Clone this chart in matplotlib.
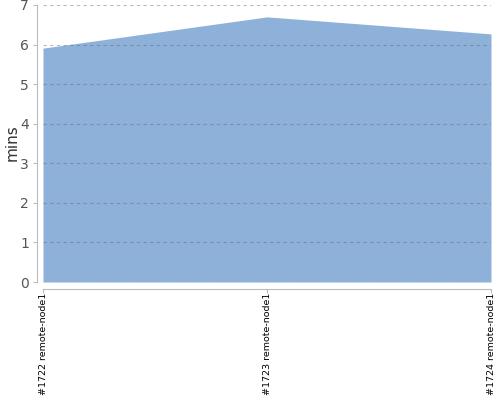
import matplotlib.pyplot as plt
import numpy as np

builds = ['#1722 remote-node1', '#1723 remote-node1', '#1724 remote-node1']
durations = [5.91, 6.70, 6.27]

fig = plt.figure(figsize=(5, 4), dpi=100)
ax = fig.add_axes([43 / 500, 1 - 282 / 400, 448 / 500, 277 / 400])

x = np.arange(len(builds))
ax.fill_between(x, 0, durations, color='#8eb1da', lw=0, zorder=1)

ax.set_xlim(0, len(builds) - 1)
ax.set_ylim(0, 7)
ax.set_yticks(range(0, 8))
ax.set_xticks(x)
ax.set_xticklabels(builds)

ax.yaxis.grid(True, linestyle=(0, (3, 3)), color='#666666', lw=0.8, alpha=0.45, zorder=2)
ax.set_axisbelow(False)

for s in ['top', 'right']:
    ax.spines[s].set_visible(False)
ax.spines['left'].set_position(('outward', 4))
ax.spines['bottom'].set_position(('outward', 5))
ax.spines['left'].set_color('#bbbbbb')
ax.spines['bottom'].set_color('#bbbbbb')
ax.tick_params(axis='y', colors='#bbbbbb', labelcolor='#555555', labelsize=10, length=3, pad=3)
ax.tick_params(axis='x', colors='#bbbbbb', labelcolor='black', labelsize=6.8,
               labelrotation=90, length=3, pad=0)

fig.text(12 / 500, 1 - 143 / 400, 'mins', rotation=90, fontsize=11, color='#333333',
         ha='center', va='center')

fig.savefig('out.png', dpi=100)
